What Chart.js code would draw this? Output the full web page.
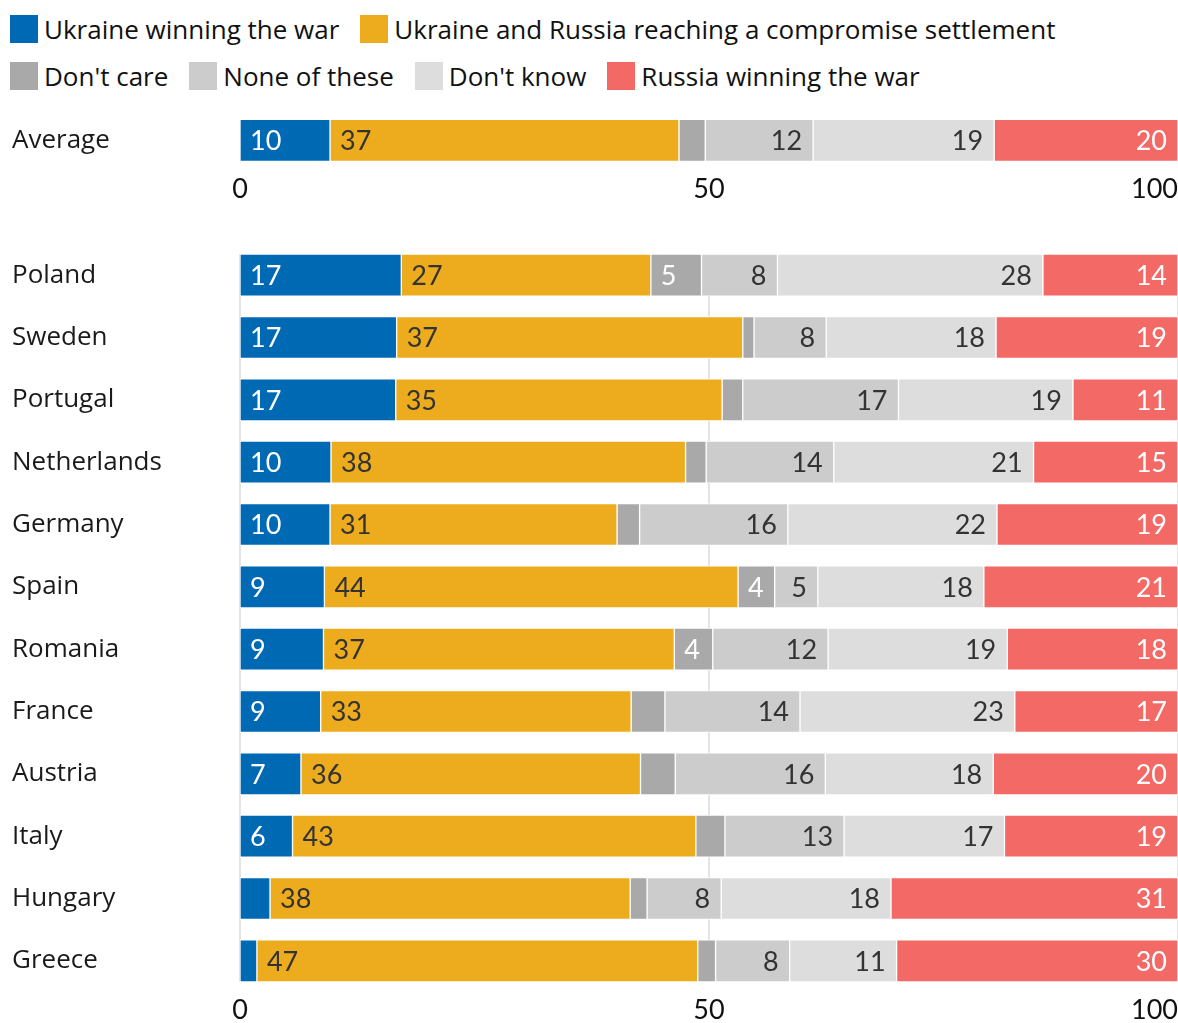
<!DOCTYPE html>
<html>
<head>
<meta charset="utf-8">
<script src="https://cdn.jsdelivr.net/npm/chart.js@4.4.0/dist/chart.umd.min.js"></script>
<style>
  html, body { margin: 0; padding: 0; background: #fff; overflow: hidden; }
  body { width: 1178px; height: 1023px; position: relative; font-family: 'Open Sans', sans-serif; }
  #legend { position: absolute; left: 10px; top: 15px; }
  .row { display: flex; align-items: center; height: 28px; margin-bottom: 19px; white-space: nowrap; }
  .item { display: flex; align-items: center; margin-right: 21px; font-size: 26px; color: #111; }
  .swatch { width: 28px; height: 28px; margin-right: 6px; }
  #topBox { position: absolute; left: 0; top: 100px; width: 1178px; height: 115px; }
  #mainBox { position: absolute; left: 0; top: 215px; width: 1178px; height: 808px; }
</style>
</head>
<body>
<div id="legend"></div>
<div id="topBox"><canvas id="topChart"></canvas></div>
<div id="mainBox"><canvas id="mainChart"></canvas></div>
<script>
var seriesNames = ['Ukraine winning the war', 'Ukraine and Russia reaching a compromise settlement',
    "Don't care", 'None of these', "Don't know", 'Russia winning the war'];
var seriesColors = ['#0069b4', '#edac1d', '#a9a9a9', '#cccccc', '#dddddd', '#f26966'];
var labelColors = ['#ffffff', '#333333', '#ffffff', '#333333', '#333333', '#ffffff'];

var xTicks = [0, 50, 100];

var averageLabel = ['Average'];
var averageValues = [9.6, 37.2, 2.8, 11.5, 19.3, 19.6];

var countries = ['Poland', 'Sweden', 'Portugal', 'Netherlands', 'Germany', 'Spain',
    'Romania', 'France', 'Austria', 'Italy', 'Hungary', 'Greece'];
var ukraineWin  = [17.2, 16.7, 16.6, 9.7, 9.6, 9.0, 8.9, 8.6, 6.5, 5.6, 3.2, 1.8];
var compromise  = [26.6, 36.9, 34.8, 37.8, 30.6, 44.1, 37.4, 33.1, 36.2, 43.0, 38.4, 47.0];
var dontCare    = [5.4, 1.2, 2.2, 2.2, 2.4, 3.9, 4.1, 3.6, 3.7, 3.1, 1.8, 1.9];
var noneOfThese = [8.1, 7.7, 16.6, 13.6, 15.8, 4.6, 12.3, 14.4, 16.0, 12.7, 7.9, 7.9];
var dontKnow    = [28.3, 18.1, 18.6, 21.3, 22.3, 17.7, 19.1, 22.9, 17.9, 17.1, 18.1, 11.4];
var russiaWin   = [14.4, 19.4, 11.2, 15.4, 19.3, 20.7, 18.2, 17.4, 19.7, 18.5, 30.6, 30.0];

Chart.defaults.font.family = "'Open Sans', sans-serif";

// legend, two rows like the original
var legendRows = [[0, 1], [2, 3, 4, 5]];
var legendEl = document.getElementById('legend');
legendRows.forEach(function (row) {
    var rowEl = document.createElement('div');
    rowEl.className = 'row';
    row.forEach(function (i) {
        var item = document.createElement('div');
        item.className = 'item';
        var sw = document.createElement('span');
        sw.className = 'swatch';
        sw.style.background = seriesColors[i];
        item.appendChild(sw);
        item.appendChild(document.createTextNode(seriesNames[i]));
        rowEl.appendChild(item);
    });
    legendEl.appendChild(rowEl);
});

var valueLabels = {
    id: 'valueLabels',
    afterDatasetsDraw: function (chart) {
        var ctx = chart.ctx;
        ctx.save();
        ctx.font = '27px Lato, sans-serif';
        ctx.textBaseline = 'middle';
        chart.data.datasets.forEach(function (ds, i) {
            var meta = chart.getDatasetMeta(i);
            meta.data.forEach(function (bar, j) {
                var v = ds.data[j];
                if (v < 3.8) return;
                var p = bar.getProps(['x', 'y', 'base'], true);
                ctx.fillStyle = labelColors[i];
                if (i < 3) {
                    ctx.textAlign = 'left';
                    ctx.fillText(Math.round(v), p.base + 10, p.y + 1);
                } else {
                    ctx.textAlign = 'right';
                    ctx.fillText(Math.round(v), p.x - 11, p.y + 1);
                }
            });
        });
        ctx.restore();
    }
};

// x tick text under the last bar; the last one is right aligned
var axisText = {
    id: 'axisText',
    afterDraw: function (chart) {
        var x = chart.scales.x;
        var bars = chart.getDatasetMeta(0).data;
        var last = bars[bars.length - 1];
        var y = last.y + last.height / 2 + 28;
        var ctx = chart.ctx;
        ctx.save();
        ctx.font = '27px Lato, sans-serif';
        ctx.fillStyle = '#111111';
        ctx.textBaseline = 'middle';
        xTicks.forEach(function (t, k) {
            ctx.textAlign = k === xTicks.length - 1 ? 'right' : 'center';
            ctx.fillText(t, x.getPixelForValue(t), y);
        });
        ctx.restore();
    }
};

var gridLines = {
    id: 'gridLines',
    beforeDatasetsDraw: function (chart) {
        var x = chart.scales.x;
        var bars = chart.getDatasetMeta(0).data;
        var first = bars[0], last = bars[bars.length - 1];
        var top = first.y - first.height / 2;
        var bottom = last.y + last.height / 2;
        var ctx = chart.ctx;
        ctx.save();
        ctx.strokeStyle = '#e4e4e4';
        ctx.lineWidth = 2;
        xTicks.forEach(function (t) {
            var px = x.getPixelForValue(t);
            ctx.beginPath();
            ctx.moveTo(px, top);
            ctx.lineTo(px, bottom);
            ctx.stroke();
        });
        ctx.restore();
    }
};

function makeDatasets(values) {
    return values.map(function (data, i) {
        return {
            label: seriesNames[i],
            data: data,
            backgroundColor: seriesColors[i],
            borderColor: '#ffffff',
            borderWidth: 1,
            borderSkipped: false,
            barThickness: 42
        };
    });
}

function makeOptions(padTop, padBottom) {
    return {
        indexAxis: 'y',
        responsive: true,
        maintainAspectRatio: false,
        animation: false,
        layout: { padding: { left: 12, right: 0, top: padTop, bottom: padBottom } },
        plugins: { legend: { display: false }, tooltip: { enabled: false } },
        scales: {
            x: { stacked: true, min: 0, max: 100, display: false },
            y: {
                stacked: true,
                grid: { display: false },
                border: { display: false },
                ticks: { crossAlign: 'far', color: '#1a1a1a', font: { size: 26 } },
                afterFit: function (scale) { scale.width = 228; }
            }
        }
    };
}

var topChart = new Chart(document.getElementById('topChart').getContext('2d'), {
    type: 'bar',
    data: {
        labels: averageLabel,
        datasets: makeDatasets(averageValues.map(function (v) { return [v]; }))
    },
    options: makeOptions(16, 53),
    plugins: [valueLabels, axisText]
});

var mainChart = new Chart(document.getElementById('mainChart').getContext('2d'), {
    type: 'bar',
    data: {
        labels: countries,
        datasets: makeDatasets([ukraineWin, compromise, dontCare, noneOfThese, dontKnow, russiaWin])
    },
    options: makeOptions(29, 31),
    plugins: [gridLines, valueLabels, axisText]
});
</script>
</body>
</html>
